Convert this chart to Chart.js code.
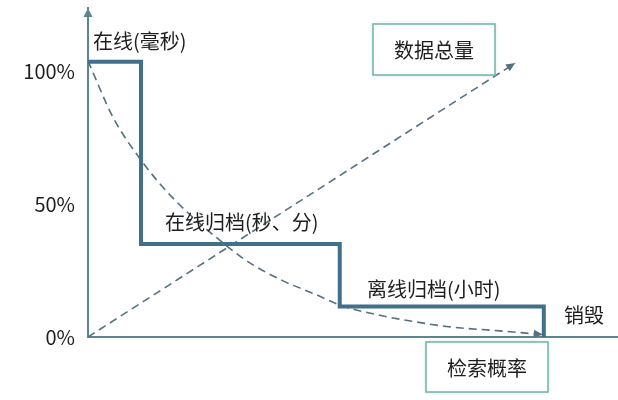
<!DOCTYPE html>
<html>
<head>
<meta charset="utf-8">
<script src="https://cdn.jsdelivr.net/npm/chart.js@4.4.0/dist/chart.umd.min.js"></script>
<style>
html,body{margin:0;padding:0;background:#fff;}
#wrap{width:618px;height:400px;position:relative;}
</style>
</head>
<body>
<div id="wrap"><canvas id="c" width="618" height="400"></canvas></div>
<script>
// ---- data ----
const yTickValues = [0, 50, 100];
const stepX = [0, 10, 10, 47.5, 47.5, 86, 86];
const stepY = [103.5, 103.5, 35, 35, 11.5, 11.5, 0];
const probX = [0, 4.7, 10, 16, 26.2, 30.6, 36.8, 43.2, 47.5, 55.7, 62.1, 68.3, 77.7, 85.8];
const probY = [103.8, 82.7, 66.5, 52.3, 34.2, 27.8, 21.1, 15.8, 12.0, 7.9, 5.6, 3.8, 2.3, 0.9];
const volX = [0, 80.6];
const volY = [0, 103];
const stageLabels = ['在线(毫秒)', '在线归档(秒、分)', '离线归档(小时)', '销毁'];
const boxLabels = ['数据总量', '检索概率'];

const FONT = '"Noto Sans CJK SC", "Noto Sans", sans-serif';
const AXIS = '#5d8491';
const STEP = '#41708a';
const DASH = '#56707c';
const TEXT = '#1e1e1e';

const toPts = (xs, ys) => xs.map((x, i) => ({x: x, y: ys[i]}));

function arrowHead(ctx, x, y, angle, len, half, color) {
  ctx.save();
  ctx.translate(x, y);
  ctx.rotate(angle);
  ctx.beginPath();
  ctx.moveTo(0, 0);
  ctx.lineTo(-len, -half);
  ctx.lineTo(-len, half);
  ctx.closePath();
  ctx.fillStyle = color;
  ctx.fill();
  ctx.restore();
}

const deco = {
  id: 'deco',
  afterDatasetsDraw(chart) {
    const ctx = chart.ctx;
    const ca = chart.chartArea;
    // y-axis arrow
    arrowHead(ctx, ca.left, ca.top, -Math.PI / 2, 9, 4.5, AXIS);
    // dataset arrowheads (dashed lines)
    [1, 2].forEach(di => {
      const pts = chart.getDatasetMeta(di).data;
      const a = pts[pts.length - 1], b = pts[pts.length - 2];
      const ang = Math.atan2(a.y - b.y, a.x - b.x);
      arrowHead(ctx, a.x, a.y, ang, 9, 4, DASH);
    });
    // labels
    ctx.save();
    ctx.fillStyle = TEXT;
    ctx.font = '20px ' + FONT;
    ctx.textBaseline = 'middle';
    ctx.textAlign = 'left';
    ctx.fillText(stageLabels[0], 93, 41);
    ctx.fillText(stageLabels[1], 165, 222);
    ctx.fillText(stageLabels[2], 367, 289);
    ctx.fillText(stageLabels[3], 564, 315);
    ctx.restore();
    // boxes
    const boxes = [
      {t: boxLabels[0], x: 373, y: 24, w: 122, h: 51},
      {t: boxLabels[1], x: 426, y: 342, w: 122, h: 50}
    ];
    boxes.forEach(bx => {
      ctx.save();
      ctx.shadowColor = 'rgba(110,180,170,0.45)';
      ctx.shadowBlur = 4;
      ctx.fillStyle = '#fff';
      ctx.fillRect(bx.x, bx.y, bx.w, bx.h);
      ctx.shadowBlur = 0;
      ctx.strokeStyle = '#6fb4a8';
      ctx.lineWidth = 1.5;
      ctx.strokeRect(bx.x, bx.y, bx.w, bx.h);
      ctx.fillStyle = TEXT;
      ctx.font = '20px ' + FONT;
      ctx.textAlign = 'center';
      ctx.textBaseline = 'middle';
      ctx.fillText(bx.t, bx.x + bx.w / 2, bx.y + bx.h / 2 + 1);
      ctx.restore();
    });
  }
};

new Chart(document.getElementById('c'), {
  type: 'scatter',
  data: {
    datasets: [
      {data: toPts(stepX, stepY), showLine: true, borderColor: STEP, borderWidth: 4,
       pointRadius: 0, tension: 0, borderJoinStyle: 'miter', borderCapStyle: 'butt'},
      {data: toPts(probX, probY), showLine: true, borderColor: DASH, borderWidth: 1.6,
       borderDash: [8, 5], pointRadius: 0, cubicInterpolationMode: 'monotone'},
      {data: toPts(volX, volY), showLine: true, borderColor: DASH, borderWidth: 1.6,
       borderDash: [8, 5], pointRadius: 0}
    ]
  },
  options: {
    responsive: false,
    animation: false,
    layout: {padding: {top: 8, left: 0, right: 0, bottom: 0}},
    plugins: {legend: {display: false}, tooltip: {enabled: false}},
    scales: {
      x: {
        type: 'linear', min: 0, max: 100,
        grid: {display: false, drawTicks: false},
        border: {display: true, color: AXIS, width: 2},
        ticks: {display: false},
        afterFit(s) { s.height = 63; s.paddingLeft = 0; s.paddingRight = 0; }
      },
      y: {
        type: 'linear', min: 0, max: 123.7,
        grid: {display: false, drawTicks: false},
        border: {display: true, color: AXIS, width: 2},
        afterBuildTicks(s) { s.ticks = yTickValues.map(v => ({value: v})); },
        ticks: {
          color: TEXT, padding: 13,
          font: {family: FONT, size: 20},
          callback: v => v + '%'
        },
        afterFit(s) { s.width = 88; s.paddingTop = 0; s.paddingBottom = 0; }
      }
    }
  },
  plugins: [deco]
});
</script>
</body>
</html>
